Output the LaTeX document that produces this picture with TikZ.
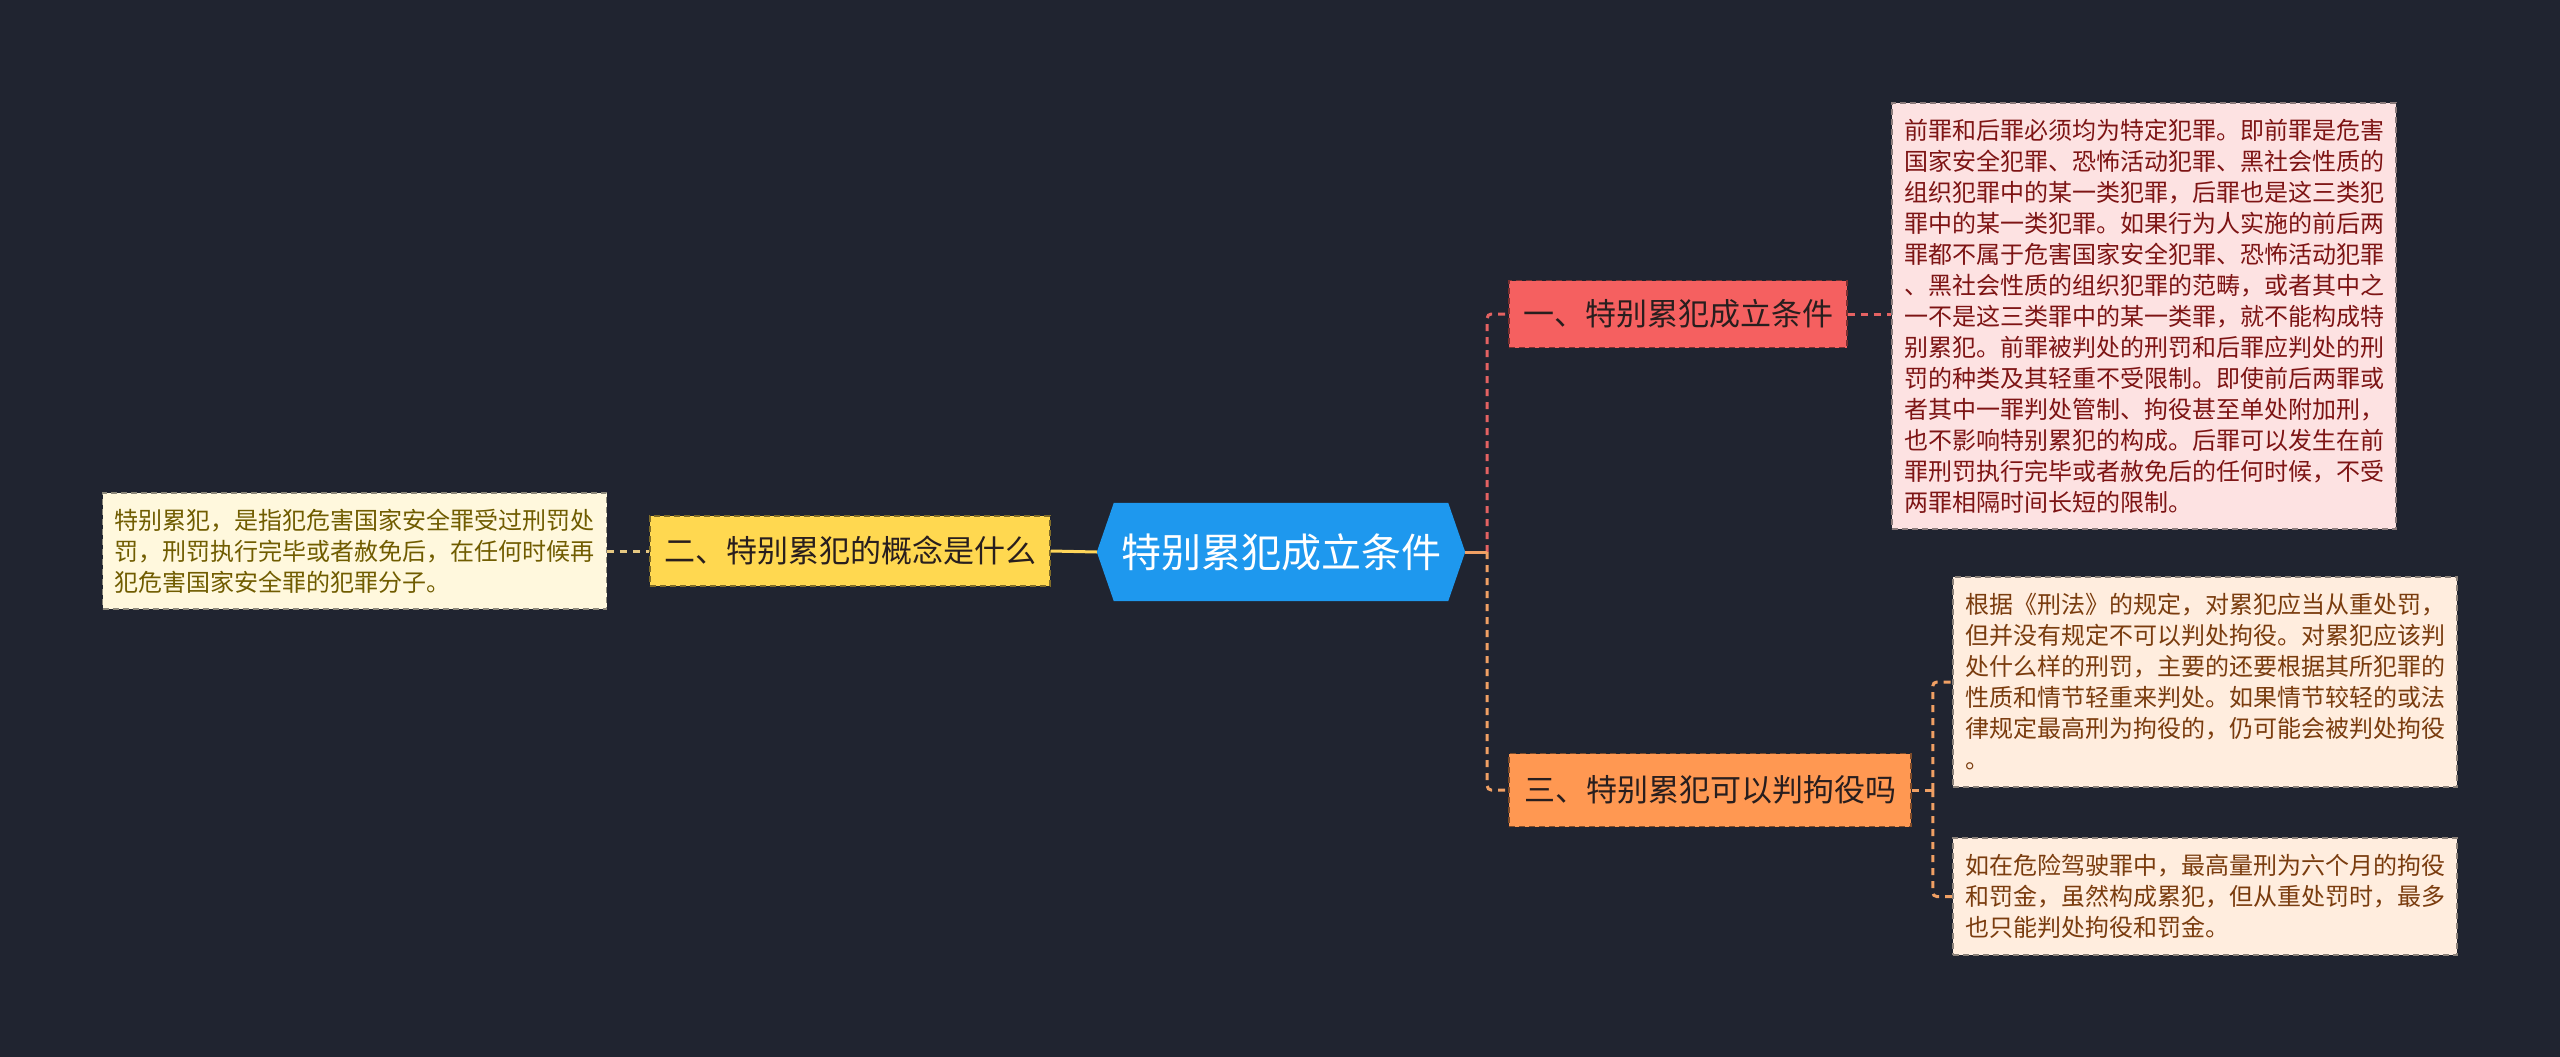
\documentclass[tikz,border=0pt]{standalone}
\usepackage{fontspec}
\setmainfont{Noto Sans CJK SC}
\usetikzlibrary{backgrounds,calc}
\definecolor{bgc}{RGB}{32,36,48}
\definecolor{cblue}{RGB}{30,152,238}
\definecolor{cyellow}{RGB}{255,216,80}
\definecolor{cred}{RGB}{245,96,96}
\definecolor{corange}{RGB}{255,152,82}
\definecolor{cpink}{RGB}{253,226,226}
\definecolor{cpeach}{RGB}{255,237,222}
\definecolor{ccream}{RGB}{255,248,221}
\definecolor{titletext}{RGB}{40,30,30}
\definecolor{pinktext}{RGB}{125,20,20}
\definecolor{peachtext}{RGB}{122,60,14}
\definecolor{creamtext}{RGB}{112,92,0}
\definecolor{lyellow}{RGB}{255,214,90}
\definecolor{lyellowd}{RGB}{230,200,130}
\definecolor{lred}{RGB}{228,98,98}
\definecolor{lorange}{RGB}{240,160,100}
\tikzset{
  conn/.style={line width=3pt},
  dsh/.style={conn, dash pattern=on 7pt off 6pt},
  titlebox/.style={rectangle, inner sep=0pt, fill=#1, draw=#1!50!black,
    line width=1.5pt, dash pattern=on 6pt off 4pt, text=titletext,
    font=\fontsize{31pt}{36pt}\selectfont},
  detail/.style 2 args={rectangle, inner sep=0pt, minimum width=504pt,
    align=left, fill=#1, draw=#1!55!black, line width=1.5pt,
    dash pattern=on 6pt off 4pt, text=#2,
    font=\fontsize{24pt}{31pt}\selectfont},
}
\begin{document}
\begin{tikzpicture}[x=1pt,y=-1pt]
\useasboundingbox (0,0) rectangle (2560,1057);

% central node
\node[rectangle, inner sep=0pt, minimum width=334pt, minimum height=98pt,
  text=white, font=\fontsize{40pt}{46pt}\selectfont] (central) at (1281,552) {特别累犯成立条件};
\coordinate (ctipE) at ([xshift=17pt]central.east);
\coordinate (ctipW) at ([xshift=-17pt]central.west);

% title boxes
\node[titlebox=cyellow, minimum width=400pt, minimum height=70pt] (b2) at (850,551) {二、特别累犯的概念是什么};
\node[titlebox=cred, minimum width=338pt, minimum height=67pt] (b1) at (1678,314) {一、特别累犯成立条件};
\node[titlebox=corange, minimum width=402pt, minimum height=73pt] (b3) at (1710,790) {三、特别累犯可以判拘役吗};

% detail boxes
\node[detail={ccream}{creamtext}, minimum height=116pt] (d2) at (354.5,551) {特别累犯，是指犯危害国家安全罪受过刑罚处\\罚，刑罚执行完毕或者赦免后，在任何时候再\\犯危害国家安全罪的犯罪分子。};
\node[detail={cpink}{pinktext}, minimum height=426pt] (d1) at (2144,316) {前罪和后罪必须均为特定犯罪。即前罪是危害\\国家安全犯罪、恐怖活动犯罪、黑社会性质的\\组织犯罪中的某一类犯罪，后罪也是这三类犯\\罪中的某一类犯罪。如果行为人实施的前后两\\罪都不属于危害国家安全犯罪、恐怖活动犯罪\\、黑社会性质的组织犯罪的范畴，或者其中之\\一不是这三类罪中的某一类罪，就不能构成特\\别累犯。前罪被判处的刑罚和后罪应判处的刑\\罚的种类及其轻重不受限制。即使前后两罪或\\者其中一罪判处管制、拘役甚至单处附加刑，\\也不影响特别累犯的构成。后罪可以发生在前\\罪刑罚执行完毕或者赦免后的任何时候，不受\\两罪相隔时间长短的限制。};
\node[detail={cpeach}{peachtext}, minimum height=210pt] (d3a) at (2205,682) {根据《刑法》的规定，对累犯应当从重处罚，\\但并没有规定不可以判处拘役。对累犯应该判\\处什么样的刑罚，主要的还要根据其所犯罪的\\性质和情节轻重来判处。如果情节较轻的或法\\律规定最高刑为拘役的，仍可能会被判处拘役\\。};
\node[detail={cpeach}{peachtext}, minimum height=117pt] (d3b) at (2205,896.5) {如在危险驾驶罪中，最高量刑为六个月的拘役\\和罚金，虽然构成累犯，但从重处罚时，最多\\也只能判处拘役和罚金。};

% connectors
\coordinate (t1) at ([xshift=22pt]ctipE);
\coordinate (t3) at ([xshift=21pt]b3.east);
\draw[conn, lyellow] (b2.east) -- (ctipW);
\draw[dsh, lyellowd] (d2.east) -- (b2.west);
\draw[dsh, lred, rounded corners=4pt] (t1) |- (b1.west);
\draw[dsh, lorange, rounded corners=4pt] (t1) |- (b3.west);
\draw[conn, lorange] (ctipE) -- (t1);
\draw[dsh, lred] (b1.east) -- (b1.east -| d1.west);
\draw[dsh, lorange] (b3.east) -- (t3);
\draw[dsh, lorange, rounded corners=4pt] (t3) |- (d3a.west);
\draw[dsh, lorange, rounded corners=4pt] (t3) |- (d3b.west);

\begin{scope}[on background layer]
\fill[bgc] (0,0) rectangle (2560,1057);
\fill[cblue] (central.north west) -- (central.north east) -- (ctipE)
  -- (central.south east) -- (central.south west) -- (ctipW) -- cycle;
\end{scope}
\end{tikzpicture}
\end{document}
